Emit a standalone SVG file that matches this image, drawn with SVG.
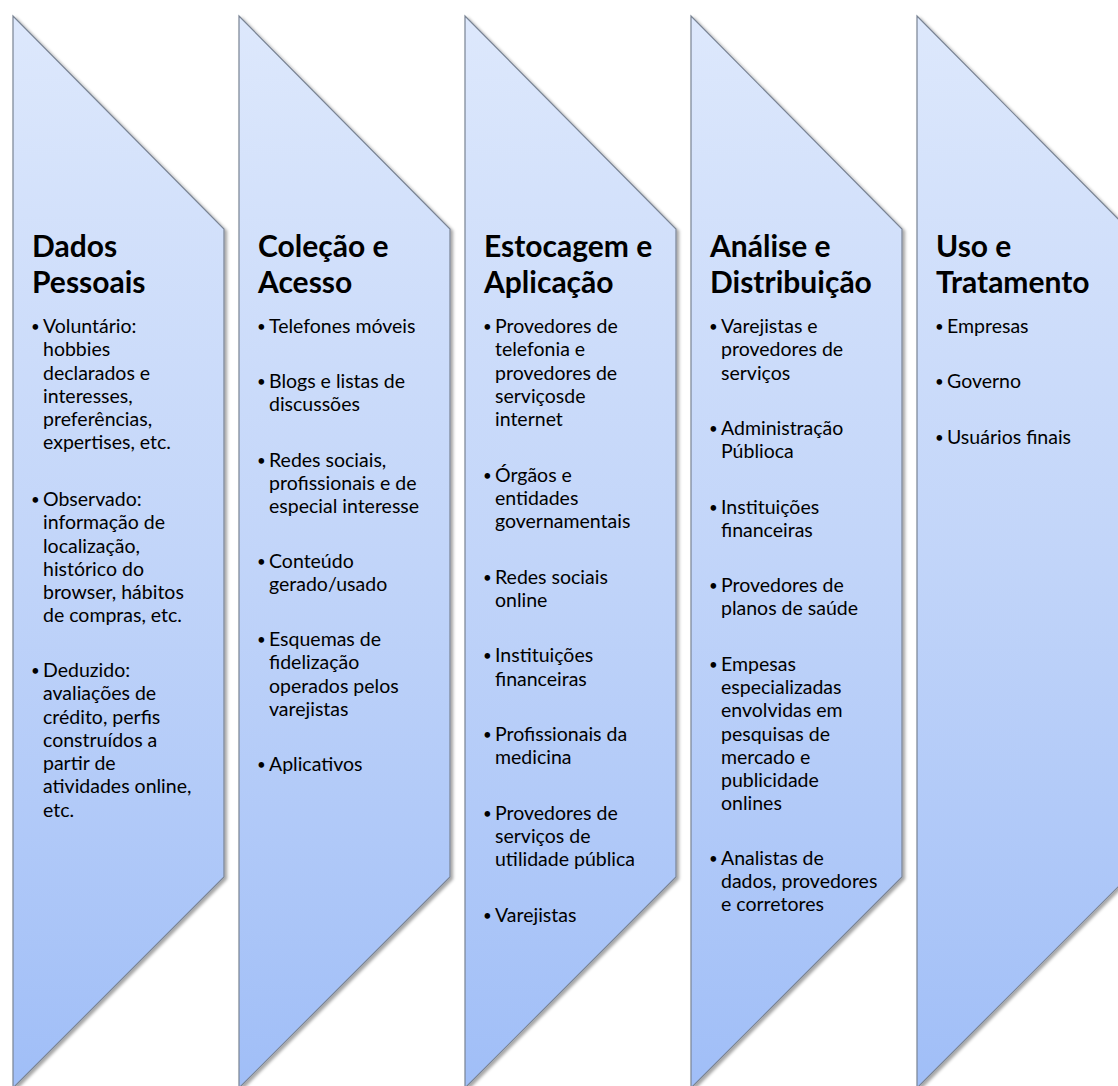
<svg xmlns="http://www.w3.org/2000/svg" width="1118" height="1086" viewBox="0 0 1118 1086">
<defs>
<linearGradient id="g" x1="0" y1="0" x2="0" y2="1">
<stop offset="0" stop-color="#dde8fc"/>
<stop offset="0.5" stop-color="#c2d5f9"/>
<stop offset="1" stop-color="#a0bef7"/>
</linearGradient>
<filter id="sh" x="-10%" y="-5%" width="120%" height="110%">
<feDropShadow dx="2.5" dy="2" stdDeviation="1.5" flood-color="#000" flood-opacity="0.35"/>
</filter>
</defs>
<style>
.c{fill:url(#g);stroke:#7a8494;stroke-width:1.2;filter:url(#sh)}
.t{font-family:Lato,"Liberation Sans",sans-serif;font-weight:bold;font-size:30px;fill:#000}
.b{font-family:Lato,"Liberation Sans",sans-serif;font-size:19.5px;fill:#000}
.d{font-family:Lato,"Liberation Sans",sans-serif;font-size:15px;fill:#000}
</style>
<rect width="1118" height="1086" fill="#fff"/>
<g id="col1">
<polygon class="c" points="13,16 224,229 224,877 13,1088"/>
<text class="t" x="32" y="257">Dados<tspan x="32" y="293">Pessoais</tspan></text>
<text class="d" x="31"><tspan x="31" y="332">•</tspan><tspan x="31" y="505">•</tspan><tspan x="31" y="676">•</tspan></text>
<text class="b"><tspan x="43" y="333">Voluntário:</tspan><tspan x="43" y="356.3">hobbies</tspan><tspan x="43" y="379.5">declarados e</tspan><tspan x="43" y="402.8">interesses,</tspan><tspan x="43" y="426">preferências,</tspan><tspan x="43" y="449.3">expertises, etc.</tspan>
<tspan x="43" y="506">Observado:</tspan><tspan x="43" y="529.3">informação de</tspan><tspan x="43" y="552.5">localização,</tspan><tspan x="43" y="575.8">histórico do</tspan><tspan x="43" y="599">browser, hábitos</tspan><tspan x="43" y="622.3">de compras, etc.</tspan>
<tspan x="43" y="677">Deduzido:</tspan><tspan x="43" y="700.3">avaliações de</tspan><tspan x="43" y="723.5">crédito, perfis</tspan><tspan x="43" y="746.8">construídos a</tspan><tspan x="43" y="770">partir de</tspan><tspan x="43" y="793.3">atividades online,</tspan><tspan x="43" y="816.5">etc.</tspan></text>
</g>
<g id="col2">
<polygon class="c" points="239,16 450,229 450,877 239,1088"/>
<text class="t" x="258" y="257">Coleção e<tspan x="258" y="293">Acesso</tspan></text>
<text class="d"><tspan x="257" y="332">•</tspan><tspan x="257" y="387">•</tspan><tspan x="257" y="465.6">•</tspan><tspan x="257" y="567">•</tspan><tspan x="257" y="645">•</tspan><tspan x="257" y="770">•</tspan></text>
<text class="b"><tspan x="269" y="333">Telefones móveis</tspan>
<tspan x="269" y="388">Blogs e listas de</tspan><tspan x="269" y="411.3">discussões</tspan>
<tspan x="269" y="466.6">Redes sociais,</tspan><tspan x="269" y="489.8">profissionais e de</tspan><tspan x="269" y="513">especial interesse</tspan>
<tspan x="269" y="568">Conteúdo</tspan><tspan x="269" y="591.3">gerado/usado</tspan>
<tspan x="269" y="646">Esquemas de</tspan><tspan x="269" y="669.3">fidelização</tspan><tspan x="269" y="692.5">operados pelos</tspan><tspan x="269" y="715.8">varejistas</tspan>
<tspan x="269" y="771">Aplicativos</tspan></text>
</g>
<g id="col3">
<polygon class="c" points="465,16 676,229 676,877 465,1088"/>
<text class="t" x="484" y="257">Estocagem e<tspan x="484" y="293">Aplicação</tspan></text>
<text class="d"><tspan x="483" y="332">•</tspan><tspan x="483" y="480.5">•</tspan><tspan x="483" y="582.5">•</tspan><tspan x="483" y="661.3">•</tspan><tspan x="483" y="740">•</tspan><tspan x="483" y="818.8">•</tspan><tspan x="483" y="920.8">•</tspan></text>
<text class="b"><tspan x="495" y="333">Provedores de</tspan><tspan x="495" y="356.3">telefonia e</tspan><tspan x="495" y="379.5">provedores de</tspan><tspan x="495" y="402.8">serviçosde</tspan><tspan x="495" y="426">internet</tspan>
<tspan x="495" y="481.5">Órgãos e</tspan><tspan x="495" y="504.8">entidades</tspan><tspan x="495" y="528">governamentais</tspan>
<tspan x="495" y="583.5">Redes sociais</tspan><tspan x="495" y="606.8">online</tspan>
<tspan x="495" y="662.3">Instituições</tspan><tspan x="495" y="685.5">financeiras</tspan>
<tspan x="495" y="741">Profissionais da</tspan><tspan x="495" y="764.3">medicina</tspan>
<tspan x="495" y="819.8">Provedores de</tspan><tspan x="495" y="843">serviços de</tspan><tspan x="495" y="866.3">utilidade pública</tspan>
<tspan x="495" y="921.8">Varejistas</tspan></text>
</g>
<g id="col4">
<polygon class="c" points="691,16 902,229 902,877 691,1088"/>
<text class="t" x="710" y="257">Análise e<tspan x="710" y="293">Distribuição</tspan></text>
<text class="d"><tspan x="709" y="332">•</tspan><tspan x="709" y="434">•</tspan><tspan x="709" y="512.6">•</tspan><tspan x="709" y="591.1">•</tspan><tspan x="709" y="669.7">•</tspan><tspan x="709" y="863.5">•</tspan></text>
<text class="b"><tspan x="721" y="333">Varejistas e</tspan><tspan x="721" y="356.3">provedores de</tspan><tspan x="721" y="379.5">serviços</tspan>
<tspan x="721" y="435">Administração</tspan><tspan x="721" y="458.3">Públioca</tspan>
<tspan x="721" y="513.6">Instituições</tspan><tspan x="721" y="536.8">financeiras</tspan>
<tspan x="721" y="592.1">Provedores de</tspan><tspan x="721" y="615.4">planos de saúde</tspan>
<tspan x="721" y="670.7">Empesas</tspan><tspan x="721" y="694">especializadas</tspan><tspan x="721" y="717.2">envolvidas em</tspan><tspan x="721" y="740.5">pesquisas de</tspan><tspan x="721" y="763.7">mercado e</tspan><tspan x="721" y="787">publicidade</tspan><tspan x="721" y="810.2">onlines</tspan>
<tspan x="721" y="864.5">Analistas de</tspan><tspan x="721" y="887.8">dados, provedores</tspan><tspan x="721" y="911">e corretores</tspan></text>
</g>
<g id="col5">
<polygon class="c" points="917,16 1128,229 1128,877 917,1088"/>
<text class="t" x="936" y="257">Uso e<tspan x="936" y="293">Tratamento</tspan></text>
<text class="d"><tspan x="935" y="332">•</tspan><tspan x="935" y="387.3">•</tspan><tspan x="935" y="442.6">•</tspan></text>
<text class="b"><tspan x="947" y="333">Empresas</tspan>
<tspan x="947" y="388.3">Governo</tspan>
<tspan x="947" y="443.6">Usuários finais</tspan></text>
</g>
<g id="connectors"/>
</svg>
